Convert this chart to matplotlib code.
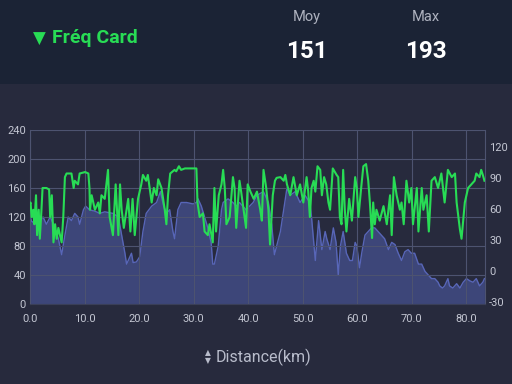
import matplotlib
matplotlib.use('Agg')
import matplotlib.pyplot as plt
from matplotlib.patches import Rectangle

# heart rate (left axis) vs distance
hr_km = [0.0, 0.1, 0.3, 0.6, 0.8, 1.1, 1.3, 1.6, 1.8, 2.1, 2.3, 3.0, 3.5, 3.7, 4.0, 4.3, 4.6, 4.9,
         5.2, 5.8, 6.1, 6.4, 6.7, 7.6, 8.0, 8.2, 8.8, 9.1, 10.1, 10.7, 10.9, 11.0, 11.3, 11.9, 12.5,
         12.8, 13.1, 13.7, 14.3, 14.6, 15.2, 15.7, 16.2, 16.5, 16.8, 17.2, 18.0, 18.4, 18.8, 19.2,
         19.8, 20.4, 20.7, 21.3, 21.6, 22.3, 22.7, 23.2, 23.5, 24.1, 24.7, 25.0, 25.3, 25.7, 26.5,
         26.8, 27.3, 27.7, 28.4, 30.5, 30.7, 31.1, 31.7, 32.0, 32.6, 32.9, 33.5, 33.8, 34.1, 34.6,
         35.1, 35.4, 35.7, 36.0, 36.6, 37.2, 37.5, 37.8, 38.4, 38.7, 39.6, 39.9, 40.4, 41.0, 41.6,
         42.2, 42.5, 42.8, 43.3, 43.7, 44.0, 44.5, 44.9, 45.2, 45.9, 46.5, 46.8, 47.1, 47.7, 48.3,
         48.9, 49.5, 50.1, 50.7, 51.0, 51.3, 51.6, 52.0, 52.3, 52.7, 53.2, 53.5, 53.9, 54.3, 54.7,
         55.0, 55.5, 56.2, 56.5, 56.8, 57.1, 57.4, 57.7, 58.0, 58.5, 59.0, 59.6, 59.9, 60.2, 60.7,
         61.1, 61.6, 62.0, 62.3, 62.7, 62.9, 63.2, 63.5, 64.1, 64.8, 65.4, 66.0, 66.3, 66.7, 67.2,
         67.8, 68.1, 68.5, 69.0, 69.5, 69.9, 70.2, 70.9, 71.2, 71.8, 72.1, 72.7, 73.1, 73.6, 74.2,
         74.8, 75.4, 76.0, 76.6, 77.3, 77.9, 78.2, 78.8, 79.1, 79.7, 80.3, 80.9, 81.5, 81.8, 82.4,
         82.7, 83.0, 83.3]
hr = [138, 140, 120, 130, 110, 150, 95, 130, 90, 130, 160, 160, 158, 120, 150, 85, 110, 90,
      105, 85, 120, 175, 180, 180, 160, 170, 165, 180, 182, 180, 160, 130, 150, 130, 140,
      125, 150, 145, 185, 120, 95, 165, 95, 165, 130, 105, 145, 100, 145, 95,
      145, 165, 178, 170, 178, 140, 160, 150, 172, 160, 130, 110, 150, 180, 185,
      183, 190, 185, 187, 187, 140, 120, 125, 100, 95, 110, 85, 160, 100, 150,
      165, 185, 160, 110, 120, 175, 160, 105, 170, 155, 105, 165, 155, 145, 155,
      130, 115, 185, 160, 130, 82, 150, 170, 174, 175, 170, 178, 165, 150, 175,
      150, 165, 140, 175, 155, 120, 160, 170, 155, 190, 185, 150, 175, 165, 140,
      130, 187, 178, 175, 120, 110, 185, 130, 100, 145, 115, 175, 160, 120, 160,
      190, 193, 170, 140, 91, 140, 110, 130, 115, 135, 110, 150, 95, 175, 150,
      130, 140, 110, 170, 140, 160, 110, 160, 100, 160, 130, 150, 100, 170, 175,
      160, 180, 140, 185, 175, 180, 140, 103, 90, 140, 160, 165, 170, 180, 175,
      185, 178, 170]

# elevation (right axis) vs distance
alt_km = [0.0, 0.3, 1.2, 2.4, 3.0, 3.7, 4.3, 5.2, 5.8, 6.4, 7.0, 7.6, 8.2, 8.8, 9.1, 9.8, 10.2,
          10.9, 11.9, 12.8, 13.7, 15.2, 16.2, 16.8, 17.4, 17.7, 18.3, 18.6, 18.9, 19.5, 20.1,
          20.7, 21.3, 22.3, 23.2, 23.9, 24.5, 25.0, 25.6, 26.2, 26.5, 27.1, 27.7, 28.7, 29.9,
          30.5, 30.8, 31.4, 32.0, 32.6, 33.2, 33.5, 33.8, 34.5, 35.1, 35.4, 36.3, 37.2, 37.8,
          38.4, 39.6, 40.9, 41.6, 42.8, 43.7, 44.3, 44.8, 45.9, 46.5, 47.1, 47.7, 48.6, 49.5,
          50.4, 51.3, 51.6, 52.3, 52.9, 53.5, 54.1, 54.4, 55.0, 55.6, 56.1, 56.5, 56.9, 57.4,
          58.0, 58.6, 59.1, 59.6, 59.9, 60.4, 60.8, 61.4, 62.0, 62.6, 63.2, 63.8, 64.4, 65.0,
          65.7, 66.3, 66.9, 67.5, 68.1, 68.7, 69.3, 69.9, 70.5, 71.2, 71.8, 72.4, 73.0, 73.6,
          74.2, 74.8, 75.1, 75.6, 76.0, 76.6, 76.9, 77.5, 78.2, 78.8, 79.4, 80.0, 80.6, 81.2,
          81.8, 82.4, 83.0, 83.3]
alt = [52.7, 47.8, 45, 52, 45, 52, 45, 31, 15.6, 34.5, 52, 48.5, 55.5, 52, 45, 59, 62.5,
       59, 57.6, 55.5, 57, 55.5, 52, 34.5, 17, 6.5, 13.5, 17, 8, 8.6, 13.5,
       38, 55.5, 62.5, 66, 76.5, 62.5, 55.5, 59, 38, 31, 59, 66, 66, 64.6,
       66, 69.5, 62.5, 52, 41.5, 27.5, 6.5, 6.5, 24, 59, 66, 69.5, 66, 62.5,
       66, 59, 66, 73, 76.5, 66, 45, 15.6, 38, 59, 80, 73, 76.5, 66,
       73, 66, 52, 10, 48.5, 20.5, 38, 31, 20.5, 41.5, 27.5, -4, 24, 38,
       17, 10, 10, 27.5, 24, 3, 17, 34.5, 38, 41.5, 41.5, 38, 34.5, 31,
       20.5, 27.5, 25.4, 17, 10, 18.4, 20.5, 17, 17, 6.5, 6.5, -0.5, -4, -7.5,
       -7.5, -11, -14.5, -16.6, -14.5, -7.5, -14.5, -16.6, -12.4, -16.6, -11, -7.5, -9.6, -11,
       -7.5, -14.5, -11, -7.5]

x_ticks = [0, 10, 20, 30, 40, 50, 60, 70, 80]
hr_ticks = [0, 40, 80, 120, 160, 200, 240]
alt_ticks = [-30, 0, 30, 60, 90, 120]

header_bg = '#1b2335'
body_bg = '#272a3d'
grid_col = '#4d5370'
tick_col = '#c3c6d2'
green = '#28dc55'
label_col = '#b8bccb'

fig = plt.figure(figsize=(5.12, 3.84), dpi=100)
fig.patch.set_facecolor(body_bg)
fig.patches.append(Rectangle((0, 1 - 84 / 384), 1, 84 / 384, transform=fig.transFigure,
                             facecolor=header_bg, edgecolor='none', zorder=0))

ax = fig.add_axes([30 / 512, 1 - 304 / 384, 455 / 512, 174 / 384])
ax2 = ax.twinx()

# elevation area on the right axis
ax2.fill_between(alt_km, alt, -32, color='#3d4679', lw=0, zorder=1)
ax2.plot(alt_km, alt, color='#5866b8', lw=1.0, zorder=2)
ax2.set_ylim(-32, 136)
ax2.set_yticks(alt_ticks)
ax2.set_yticklabels([str(v) for v in alt_ticks])

# heart rate on the left axis, drawn on top
ax.set_zorder(ax2.get_zorder() + 1)
ax.patch.set_visible(False)
ax2.patch.set_facecolor(body_bg)
ax.plot(hr_km, hr, color=green, lw=1.5, zorder=3)
ax.set_ylim(0, 240)
ax.set_xlim(0, 83.4)
ax.set_yticks(hr_ticks)
ax.set_xticks(x_ticks)
ax.set_xticklabels([f'{v:.1f}' for v in x_ticks])

ax.grid(True, color=grid_col, lw=0.8)
ax.set_axisbelow(False)
for a in (ax, ax2):
    for s in a.spines.values():
        s.set_visible(False)
    a.tick_params(colors=tick_col, labelsize=8, length=0, pad=3, labelfontfamily='Roboto')
ax.tick_params(axis='x', pad=7)
ax.spines['bottom'].set_visible(True)
ax.spines['bottom'].set_color('#3a3f58')
ax.spines['left'].set_visible(True)
ax.spines['left'].set_color(grid_col)
ax.spines['right'].set_visible(True)
ax.spines['right'].set_color(grid_col)

# header
fig.text(39 / 512, 1 - 39 / 384, '\u25bc', color=green, fontsize=12, family='DejaVu Sans',
         ha='center', va='center')
fig.text(52 / 512, 1 - 38 / 384, 'Fréq Card', color=green, fontsize=14, family='Roboto',
         weight='bold', ha='left', va='center')
fig.text(307 / 512, 1 - 17 / 384, 'Moy', color='#aeb2bf', fontsize=10.5, family='Roboto',
         ha='center', va='center')
fig.text(426 / 512, 1 - 17 / 384, 'Max', color='#aeb2bf', fontsize=10.5, family='Roboto',
         ha='center', va='center')
fig.text(307 / 512, 1 - 52 / 384, '151', color='white', fontsize=17.5, family='Roboto',
         weight='bold', ha='center', va='center')
fig.text(426 / 512, 1 - 52 / 384, '193', color='white', fontsize=17.5, family='Roboto',
         weight='bold', ha='center', va='center')

# axis title with up/down sort icon
fig.text(208 / 512, 1 - 353 / 384, '\u25b2', color=label_col, fontsize=5.5, family='DejaVu Sans',
         ha='center', va='center')
fig.text(208 / 512, 1 - 361 / 384, '\u25bc', color=label_col, fontsize=5.5, family='DejaVu Sans',
         ha='center', va='center')
fig.text(216 / 512, 1 - 357 / 384, 'Distance(km)', color=label_col, fontsize=11.5, family='Roboto',
         ha='left', va='center')

plt.savefig('out.png', dpi=100, facecolor=fig.get_facecolor())
